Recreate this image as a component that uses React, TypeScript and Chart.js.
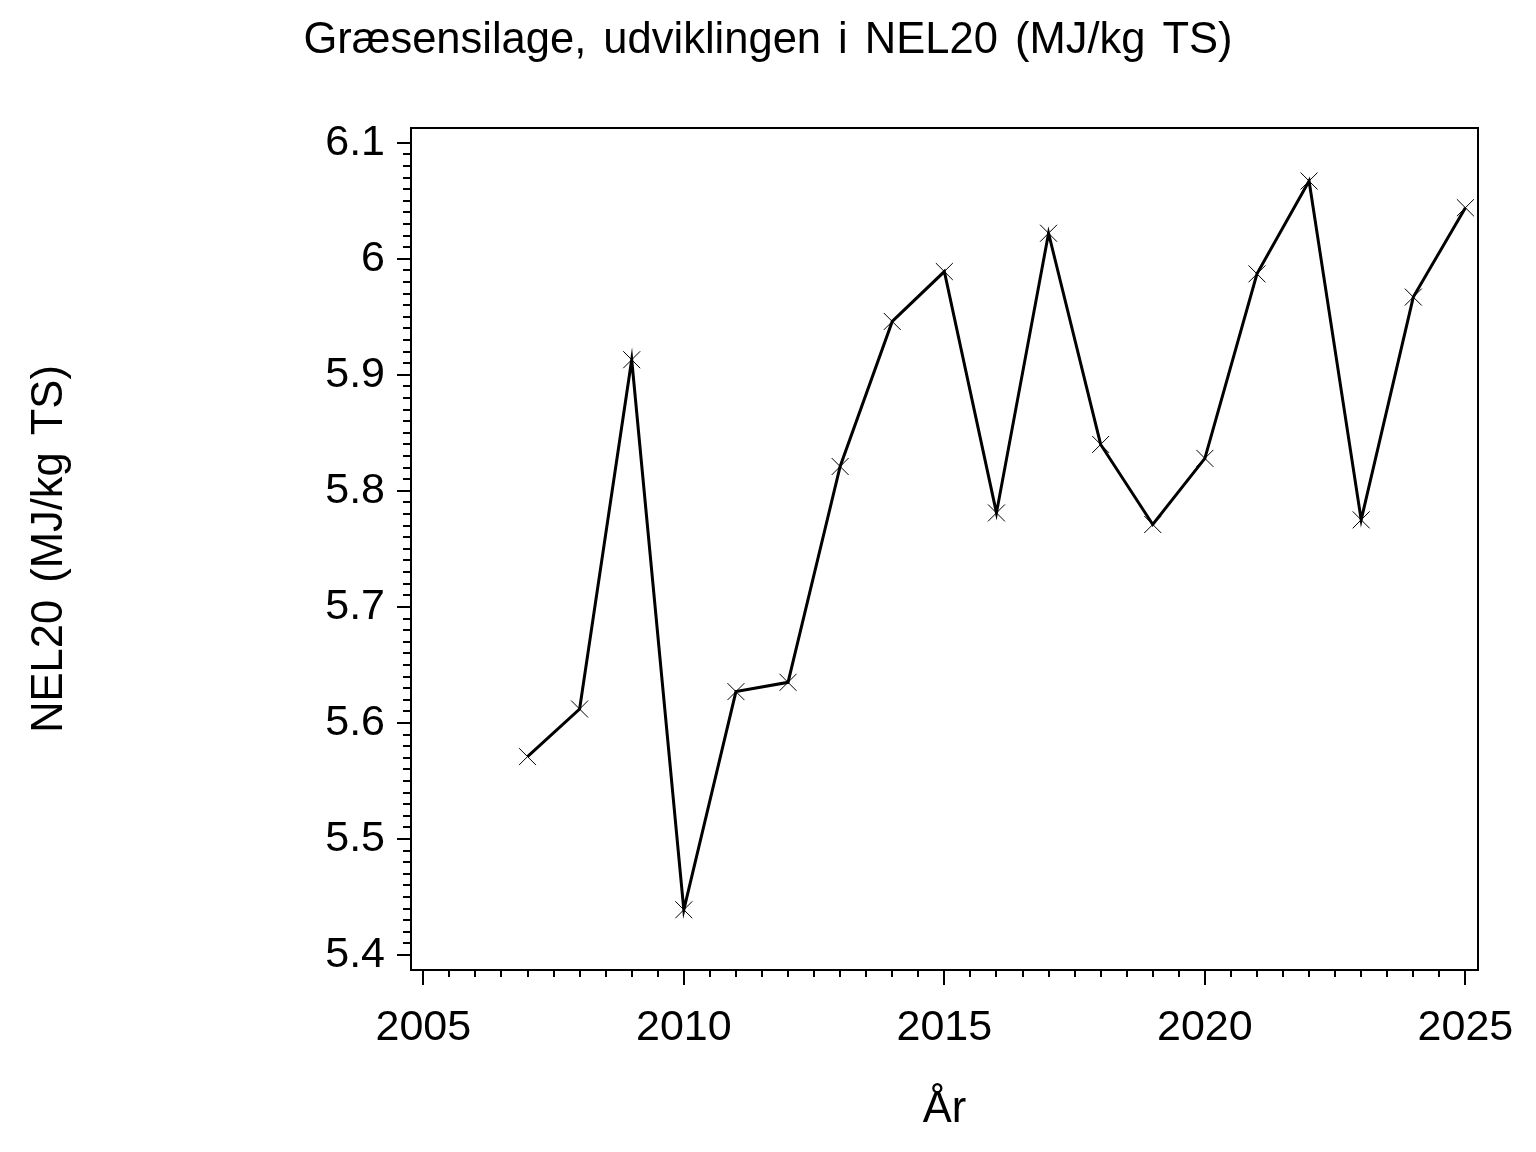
import React, { useEffect, useRef } from "react";
import { Chart, registerables } from "chart.js";

Chart.register(...registerables);

const years = [2007, 2008, 2009, 2010, 2011, 2012, 2013, 2014, 2015, 2016, 2017, 2018, 2019, 2020, 2021, 2022, 2023, 2024, 2025];
const nel20 = [5.571, 5.612, 5.913, 5.439, 5.627, 5.635, 5.821, 5.946, 5.989, 5.781, 6.022, 5.840, 5.771, 5.828, 5.987, 6.067, 5.775, 5.967, 6.044];

const xTickValues = [2005, 2010, 2015, 2020, 2025];
const yTickValues = [5.4, 5.5, 5.6, 5.7, 5.8, 5.9, 6.0, 6.1];
const xMinorStep = 0.5;
const yMinorStep = 0.01;

const titleText = "Græsensilage, udviklingen i NEL20 (MJ/kg TS)";
const yTitleText = "NEL20 (MJ/kg TS)";
const xTitleText = "År";

const FONT = "'Liberation Sans', Arial, Helvetica, sans-serif";

const frameTicksPlugin = {
  id: "frameTicks",
  beforeDraw(chart: any) {
    const ctx = chart.ctx as any;
    try {
      ctx.wordSpacing = "5px";
    } catch (e) {}
    // chart title
    ctx.save();
    ctx.fillStyle = "#000";
    ctx.font = `normal 43.5px ${FONT}`;
    ctx.textAlign = "center";
    ctx.textBaseline = "alphabetic";
    ctx.fillText(titleText, chart.width / 2, 53);
    ctx.restore();
  },
  afterDraw(chart: any) {
    const { ctx, chartArea: a, scales } = chart;
    const x = scales.x;
    const y = scales.y;
    ctx.save();
    ctx.strokeStyle = "#000";
    ctx.lineWidth = 2;
    ctx.strokeRect(a.left, a.top, a.right - a.left, a.bottom - a.top);
    ctx.beginPath();
    const yStart = yTickValues[0];
    const yEnd = yTickValues[yTickValues.length - 1];
    const nY = Math.round((yEnd - yStart) / yMinorStep);
    const perMajorY = Math.round((yTickValues[1] - yTickValues[0]) / yMinorStep);
    for (let i = 0; i <= nY; i++) {
      const v = yStart + i * yMinorStep;
      const py = Math.round(y.getPixelForValue(v));
      const len = i % perMajorY === 0 ? 14 : 8;
      ctx.moveTo(a.left, py);
      ctx.lineTo(a.left - len, py);
    }
    const xStart = xTickValues[0];
    const xEnd = xTickValues[xTickValues.length - 1];
    const nX = Math.round((xEnd - xStart) / xMinorStep);
    const perMajorX = Math.round((xTickValues[1] - xTickValues[0]) / xMinorStep);
    for (let i = 0; i <= nX; i++) {
      const v = xStart + i * xMinorStep;
      const px = Math.round(x.getPixelForValue(v));
      const len = i % perMajorX === 0 ? 15 : 7;
      ctx.moveTo(px, a.bottom);
      ctx.lineTo(px, a.bottom + len);
    }
    ctx.stroke();
    ctx.restore();
  },
};

export default function App() {
  const canvasRef = useRef<HTMLCanvasElement | null>(null);

  useEffect(() => {
    document.body.style.margin = "0";
    const canvas = canvasRef.current;
    if (!canvas) return;
    const data = years.map((yr, i) => ({ x: yr, y: nel20[i] }));
    const chart = new Chart(canvas, {
      type: "line",
      data: {
        datasets: [
          {
            data,
            borderColor: "#000",
            borderWidth: 3,
            backgroundColor: "#000",
            pointStyle: "crossRot",
            pointRadius: 12,
            pointBorderWidth: 1,
            pointBorderColor: "#000",
            pointHoverRadius: 12,
            tension: 0,
            fill: false,
          },
        ],
      },
      options: {
        responsive: false,
        animation: false,
        devicePixelRatio: 1,
        layout: { padding: { left: 0, right: 58, top: 128, bottom: 0 } },
        plugins: {
          legend: { display: false },
          tooltip: { enabled: false },
          title: { display: false },
        },
        scales: {
          x: {
            type: "linear",
            min: 2004.764,
            max: 2025.242,
            afterFit: (s: any) => {
              s.height = 182;
              s.paddingLeft = 0;
              s.paddingRight = 0;
            },
            afterBuildTicks: (s: any) => {
              s.ticks = xTickValues.map((v) => ({ value: v }));
            },
            ticks: {
              color: "#000",
              font: { family: FONT, size: 43 },
              padding: 32,
              maxRotation: 0,
              autoSkip: false,
              callback: (v: any) => String(v),
            },
            grid: { display: false, drawTicks: false },
            border: { display: false },
            title: {
              display: true,
              text: xTitleText,
              color: "#000",
              font: { family: FONT, size: 43.5 },
              padding: { top: 0, bottom: 16 },
            },
          },
          y: {
            type: "linear",
            min: 5.3871,
            max: 6.1127,
            afterFit: (s: any) => {
              s.width = 411;
              s.paddingTop = 0;
              s.paddingBottom = 0;
            },
            afterBuildTicks: (s: any) => {
              s.ticks = yTickValues.map((v) => ({ value: v }));
            },
            ticks: {
              color: "#000",
              font: { family: FONT, size: 43 },
              padding: 26,
              autoSkip: false,
              callback: (v: any) => String(Math.round(v * 10) / 10),
            },
            grid: { display: false, drawTicks: false },
            border: { display: false },
            title: {
              display: true,
              text: yTitleText,
              color: "#000",
              font: { family: FONT, size: 43.5 },
              padding: { top: 24, bottom: 0 },
            },
          },
        },
      },
      plugins: [frameTicksPlugin],
    });
    return () => {
      chart.destroy();
    };
  }, []);

  return (
    <div style={{ width: 1536, height: 1152, background: "#fff" }}>
      <canvas ref={canvasRef} width={1536} height={1152} style={{ display: "block" }} />
    </div>
  );
}
